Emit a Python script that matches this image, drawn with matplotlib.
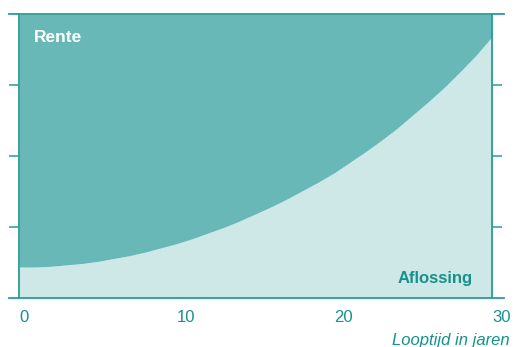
import matplotlib
matplotlib.use("Agg")
import matplotlib.pyplot as plt

# -------------------------------
# DATA
# -------------------------------
years = list(range(0, 31))
aflossing = [0.43, 0.43, 0.44, 0.46, 0.48, 0.51, 0.55, 0.59, 0.64, 0.70,
             0.76, 0.83, 0.91, 0.99, 1.08, 1.18, 1.28, 1.39, 1.51, 1.63,
             1.76, 1.91, 2.06, 2.22, 2.39, 2.58, 2.77, 2.97, 3.19, 3.42,
             3.68]
total = [4.0] * len(years)
xticks = [0, 10, 20, 30]
yticks = [1, 2, 3]

# -------------------------------
# STYLE
# -------------------------------
plt.rcParams['font.family'] = ['Liberation Sans', 'DejaVu Sans']
teal = '#2a9c98'
text_teal = '#16918c'
dark_fill = '#68b8b8'
light_fill = '#cee8e7'

W, H = 514, 347
fig = plt.figure(figsize=(W / 100, H / 100), dpi=100)
x0, x1 = 19, 492
y0, y1 = 297.5, 14
ax = fig.add_axes([x0 / W, 1 - y0 / H, (x1 - x0) / W, (y0 - y1) / H])

ax.fill_between(years, 0, aflossing, color=light_fill, lw=0)
ax.fill_between(years, aflossing, total, color=dark_fill, lw=0)
ax.set_xlim(0, 30)
ax.set_ylim(0, 4)

for side in ['left', 'right']:
    ax.spines[side].set_color(teal)
    ax.spines[side].set_linewidth(1.3)
for side in ['top', 'bottom']:
    ax.spines[side].set_visible(False)

# horizontal lines that run past the plot area
ext_l = -10 / (x1 - x0)
ext_r = 1 + 12 / (x1 - x0)
ax.plot([ext_l, ext_r], [0, 0], color=teal, lw=1.3, transform=ax.transAxes, clip_on=False)
ax.plot([ext_l, ext_r], [1, 1], color=teal, lw=1.3, transform=ax.transAxes, clip_on=False)

ax.set_yticks(yticks)
ax.tick_params(axis='y', which='both', left=True, right=True, labelleft=False,
               direction='out', length=7.5, width=1.1, color=teal)
ax.set_xticks(xticks)
ax.set_xticklabels([str(v) for v in xticks], ha='left', fontsize=12, color=text_teal)
ax.tick_params(axis='x', length=0, pad=9)

ax.text(15 / (x1 - x0), 1 - 23 / (y0 - y1), 'Rente', transform=ax.transAxes,
        color='white', fontsize=12.5, fontweight='bold', va='center', ha='left')
ax.text(1 - 19 / (x1 - x0), 19.5 / (y0 - y1), 'Aflossing', transform=ax.transAxes,
        color=text_teal, fontsize=12, fontweight='bold', va='center', ha='right')

fig.text(510 / W, 1 - 340 / H, 'Looptijd in jaren', color=text_teal, fontsize=12,
         style='italic', ha='right', va='center')

fig.savefig('out.png', dpi=100)
